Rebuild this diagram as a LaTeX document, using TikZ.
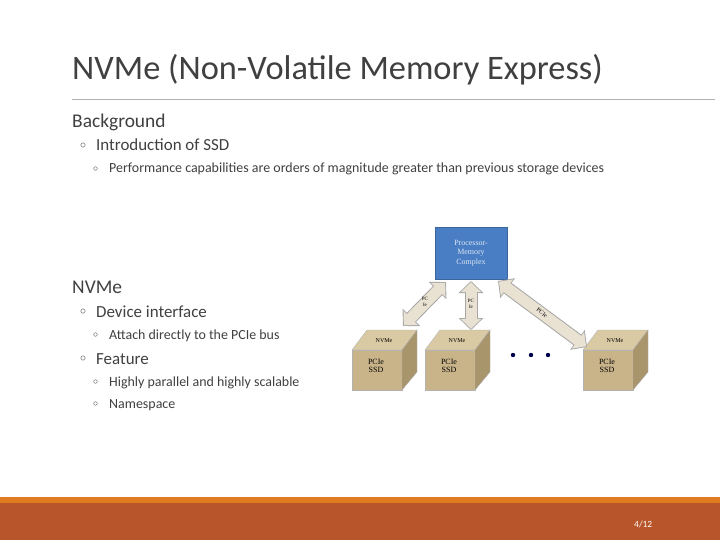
\documentclass[tikz,border=0pt]{standalone}
\usepackage{fontspec}
\setmainfont{Carlito}
\newfontfamily\serifdiag{Liberation Serif}
\usetikzlibrary{arrows.meta}
\definecolor{txtgray}{HTML}{404040}
\definecolor{barorange}{HTML}{E07B22}
\definecolor{bandrust}{HTML}{B9552A}
\definecolor{procblue}{HTML}{4A7EC4}
\definecolor{cubefront}{HTML}{C9B48A}
\definecolor{cubetop}{HTML}{D9CAA4}
\definecolor{cubeside}{HTML}{A8956B}
\definecolor{arrowfill}{HTML}{E9E2D2}
\newcommand{\slidebul}[1]{\makebox[#1][l]{\raisebox{0.12em}{$\scriptstyle\circ$}}}
\tikzset{
  txt/.style={anchor=base west,inner sep=0pt,text=txtgray},
  lvlone/.style={txt,font=\fontsize{19.5}{22}\selectfont},
  lvltwo/.style={txt,font=\fontsize{17}{19}\selectfont},
  lvlthree/.style={txt,font=\fontsize{14}{15}\selectfont},
  lbl/.style={font=\serifdiag\fontsize{6}{7}\selectfont,inner sep=0pt,align=center},
  fatout/.style={line width=13bp,draw=gray!70,{Triangle[width=24bp,length=12bp]}-{Triangle[width=24bp,length=12bp]}},
  fatin/.style={line width=11bp,draw=arrowfill,{Triangle[width=20bp,length=10bp]}-{Triangle[width=20bp,length=10bp]},shorten <=1.2bp,shorten >=1.2bp}
}
\newcommand{\ssdcube}[2]{% name, front left x
  \fill[cubefront,draw=gray!60] (#2,-350) rectangle (#2+50,-390);
  \fill[cubetop,draw=gray!60] (#2,-350) -- (#2+15,-330) -- (#2+65,-330) -- (#2+50,-350) -- cycle;
  \fill[cubeside,draw=gray!60] (#2+50,-350) -- (#2+65,-330) -- (#2+65,-372) -- (#2+50,-390) -- cycle;
  \node[lbl] (#1top) at (#2+32,-341) {NVMe};
  \node[lbl,font=\serifdiag\fontsize{8}{8.5}\selectfont] (#1) at (#2+24,-366) {PCIe\\SSD};
}
\begin{document}
\begin{tikzpicture}[x=1bp,y=1bp]
\useasboundingbox (0,0) rectangle (720,-540);
\fill[white] (0,0) rectangle (720,-540);
% title
\node[txt,font=\fontsize{34.5}{38}\selectfont] (title) at (72,-80) {NVMe (Non-Volatile Memory Express)};
\draw[gray!60,line width=0.6pt] (72,-99) -- (715,-99);
% text
\node[lvlone] (bg) at (72,-128) {Background};
\node[lvltwo] (intro) at (80,-151) {\slidebul{16bp}Introduction of SSD};
\node[lvlthree] (perf) at (93,-173) {\slidebul{16bp}Performance capabilities are orders of magnitude greater than previous storage devices};
\node[lvlone] (nvme) at (72,-293) {NVMe};
\node[lvltwo] (dev) at (80,-317) {\slidebul{16bp}Device interface};
\node[lvlthree] (attach) at (93,-339) {\slidebul{16bp}Attach directly to the PCIe bus};
\node[lvltwo] (feat) at (80,-364) {\slidebul{16bp}Feature};
\node[lvlthree] (par) at (93,-386) {\slidebul{16bp}Highly parallel and highly scalable};
\node[lvlthree] (ns) at (93,-408) {\slidebul{16bp}Namespace};
% diagram
\node[fill=procblue,draw=procblue!80!black,minimum width=72bp,minimum height=52bp,inner sep=0pt,
  text=white!80!procblue,align=center,font=\serifdiag\fontsize{8}{9.5}\selectfont] (proc) at (471,-253) {Processor-\\Memory\\Complex};
\ssdcube{ssda}{352}
\ssdcube{ssdb}{425}
\ssdcube{ssdc}{583}
\coordinate (pa) at (446,-282);
\coordinate (ca) at (403,-326);
\coordinate (pb) at (471,-281);
\coordinate (cb) at (471,-330);
\coordinate (pc) at (498,-281);
\coordinate (cc) at (587,-347);
\foreach \p/\c in {pa/ca,pb/cb,pc/cc}{
  \draw[fatout] (\p) -- (\c);
  \draw[fatin] (\p) -- (\c);
}
\node[lbl,font=\serifdiag\fontsize{5}{5.5}\selectfont] (la) at (425,-302) {PC\\Ie};
\node[lbl,font=\serifdiag\fontsize{5}{5.5}\selectfont] (lb) at (471,-304) {PC\\Ie};
\node[lbl,rotate=-37] (lc) at (542,-313) {PCIe};
\foreach \x in {513,531,548}
  \fill[black!70!blue] (\x,-355) circle (2.2);
% footer
\fill[barorange] (0,-497) rectangle (720,-503);
\fill[bandrust] (0,-503) rectangle (720,-540);
\node[anchor=base west,inner sep=0pt,text=white,font=\fontsize{9.5}{11}\selectfont] (page) at (634,-527) {4/12};
\end{tikzpicture}
\end{document}
